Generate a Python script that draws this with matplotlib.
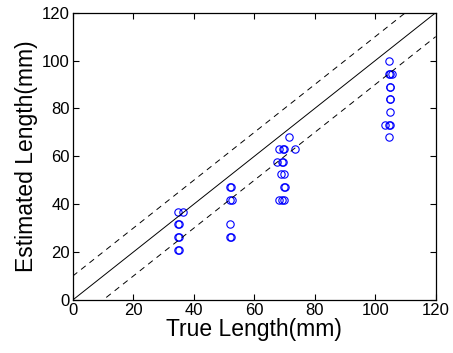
import matplotlib
matplotlib.use("Agg")
import matplotlib.pyplot as plt
import numpy as np

plt.rcParams['font.family'] = ['Liberation Sans', 'DejaVu Sans']

# Estimated points (true length, estimated length)
true_len = [34.7, 36.4, 34.8, 35.2, 34.8, 35.2, 34.8, 35.2,
            52.0, 52.4, 52.0, 52.8, 51.9, 52.0, 52.3,
            71.6, 68.2, 69.4, 70.0, 73.4, 67.5, 69.1, 69.4, 69.0, 70.0, 69.8, 70.1,
            68.1, 69.3, 70.0,
            104.7, 104.4, 105.0, 105.5, 104.8, 105.0, 104.8, 105.0, 104.9,
            103.1, 104.6, 104.9, 104.6]
est_len = [36.8, 36.8, 31.6, 31.6, 26.2, 26.2, 21.0, 21.0,
           47.4, 47.4, 41.8, 41.8, 31.6, 26.2, 26.2,
           68.2, 63.1, 63.1, 63.1, 63.1, 57.5, 57.5, 57.5, 52.5, 52.5, 47.4, 47.4,
           41.8, 41.8, 41.8,
           99.7, 94.6, 94.6, 94.6, 89.0, 89.0, 84.0, 84.0, 78.7,
           73.3, 73.3, 73.3, 68.2]

ref_x = [0, 120]
band = 10
x_ticks = [0, 20, 40, 60, 80, 100, 120]
y_ticks = [0, 20, 40, 60, 80, 100, 120]

fig = plt.figure(figsize=(4.53, 3.53), dpi=100)
ax = fig.add_axes([0.1605, 0.150, 0.8013, 0.814])

ax.plot(true_len, est_len, 'o', mfc='none', mec='#0000ff', ms=5.3, mew=0.8)
rx = np.array(ref_x)
ax.plot(rx, rx, '-', color='black', lw=0.7)
ax.plot(rx, rx + band, '--', color='black', lw=0.7, dashes=(6, 5))
ax.plot(rx, rx - band, '--', color='black', lw=0.7, dashes=(6, 5))

ax.set_xlim(0, 120)
ax.set_ylim(0, 120)
ax.set_xticks(x_ticks)
ax.set_yticks(y_ticks)
ax.tick_params(direction='in', top=True, right=True, labelsize=12, length=4, width=0.8, pad=2)
for s in ax.spines.values():
    s.set_linewidth(0.9)
ax.set_xlabel('True Length(mm)', fontsize=16.5, labelpad=0)
ax.set_ylabel('Estimated Length(mm)', fontsize=16.5, labelpad=3)

fig.savefig('out.png', dpi=100)
